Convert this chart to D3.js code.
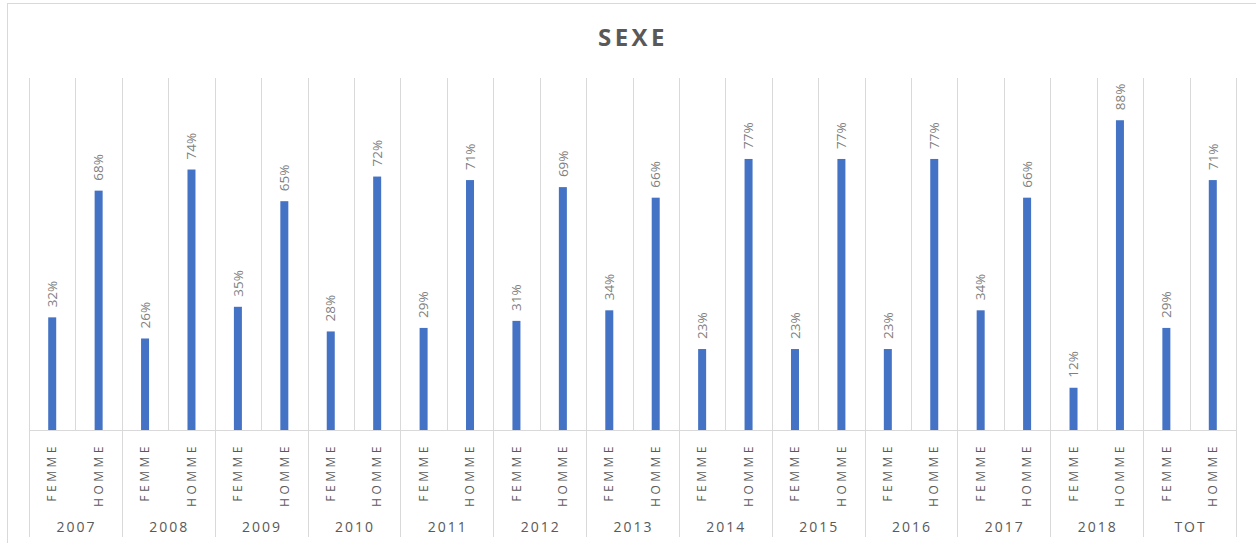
<!DOCTYPE html>
<html>
<head>
<meta charset="utf-8">
<script src="https://cdn.jsdelivr.net/npm/d3@7"></script>
<style>
  body { margin: 0; background: #fff; }
  svg { display: block; font-family: "Open Sans", sans-serif; }
</style>
</head>
<body>
<div id="chart"></div>
<script>
// data
const years = ["2007","2008","2009","2010","2011","2012","2013","2014","2015","2016","2017","2018","TOT"]
const sexes = ["FEMME","HOMME"]
const femme = [0.32,0.26,0.35,0.28,0.29,0.31,0.34,0.23,0.23,0.23,0.34,0.12,0.29]
const homme = [0.68,0.74,0.65,0.72,0.71,0.69,0.66,0.77,0.77,0.77,0.66,0.88,0.71]

const rows = []
years.forEach((y, i) => {
  rows.push({year: y, sex: sexes[0], value: femme[i]})
  rows.push({year: y, sex: sexes[1], value: homme[i]})
})

var width = 1256,
    height = 543
var plot = {left: 29, right: 1236, top: 78, bottom: 430}

var svg = d3.select("#chart")
  .append("svg")
    .attr("width", width)
    .attr("height", height)

// chart border
svg.append("rect")
  .attr("x", 7.5).attr("y", 3.5)
  .attr("width", width).attr("height", height)
  .attr("fill", "none")
  .attr("stroke", "#d9d9d9")

// title
svg.append("text")
  .attr("x", 633).attr("y", 46)
  .attr("text-anchor", "middle")
  .style("font-size", "24px")
  .style("font-weight", "bold")
  .style("letter-spacing", "3.5px")
  .attr("fill", "#595959")
  .text("SEXE")

var x = d3.scaleBand()
  .domain(rows.map(d => d.year + "|" + d.sex))
  .range([plot.left, plot.right])
  .padding(0)

var xYear = d3.scaleBand()
  .domain(years)
  .range([plot.left, plot.right])
  .padding(0)

var y = d3.scaleLinear()
  .domain([0, 1])
  .range([plot.bottom, plot.top])

// vertical gridlines at every category boundary
var bounds = x.domain().map(k => x(k)).concat([plot.right])
svg.append("g")
  .selectAll("line")
  .data(bounds)
  .enter()
  .append("line")
    .attr("x1", d => Math.round(d) + 0.5)
    .attr("x2", d => Math.round(d) + 0.5)
    .attr("y1", plot.top)
    .attr("y2", plot.bottom)
    .attr("stroke", "#d9d9d9")

// year separators below the axis
var yearBounds = years.map(d => xYear(d)).concat([plot.right])
svg.append("g")
  .selectAll("line")
  .data(yearBounds)
  .enter()
  .append("line")
    .attr("x1", d => Math.round(d) + 0.5)
    .attr("x2", d => Math.round(d) + 0.5)
    .attr("y1", plot.bottom)
    .attr("y2", 537)
    .attr("stroke", "#d9d9d9")

// axis line
svg.append("line")
  .attr("x1", plot.left).attr("x2", plot.right)
  .attr("y1", plot.bottom + 0.5).attr("y2", plot.bottom + 0.5)
  .attr("stroke", "#d9d9d9")

var barW = 8

// bars
svg.append("g")
  .selectAll("rect")
  .data(rows)
  .enter()
  .append("rect")
    .attr("x", d => x(d.year + "|" + d.sex) + x.bandwidth() / 2 - barW / 2)
    .attr("y", d => y(d.value))
    .attr("width", barW)
    .attr("height", d => y(0) - y(d.value))
    .attr("fill", "#4472c4")

// value labels, rotated
svg.append("g")
  .selectAll("text")
  .data(rows)
  .enter()
  .append("text")
    .attr("transform", d => "translate(" + (x(d.year + "|" + d.sex) + x.bandwidth() / 2) + "," + (y(d.value) - 10) + ") rotate(-90)")
    .attr("dy", "0.35em")
    .style("font-size", "13.5px")
    .attr("fill", "#808080")
    .text(d => Math.round(d.value * 100) + "%")

// sex labels, rotated
svg.append("g")
  .selectAll("text")
  .data(rows)
  .enter()
  .append("text")
    .attr("transform", d => "translate(" + (x(d.year + "|" + d.sex) + x.bandwidth() / 2) + "," + 443 + ") rotate(-90)")
    .attr("text-anchor", "end")
    .attr("dy", "0.35em")
    .style("font-size", "12px")
    .style("letter-spacing", "3.5px")
    .attr("fill", "#595959")
    .text(d => d.sex)

// year labels
svg.append("g")
  .selectAll("text")
  .data(years)
  .enter()
  .append("text")
    .attr("x", d => xYear(d) + xYear.bandwidth() / 2 + 1)
    .attr("y", 532)
    .attr("text-anchor", "middle")
    .style("font-size", "14px")
    .style("letter-spacing", "2px")
    .attr("fill", "#595959")
    .text(d => d)
</script>
</body>
</html>
